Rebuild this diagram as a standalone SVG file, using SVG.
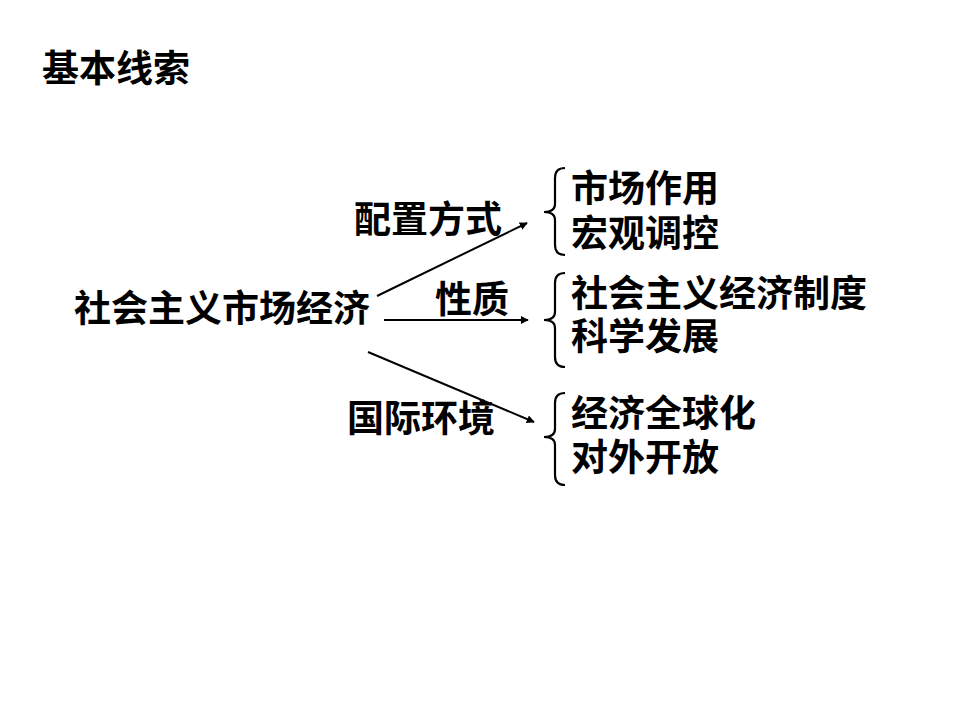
<svg xmlns="http://www.w3.org/2000/svg" width="960" height="720" viewBox="0 0 960 720">
<style>
text{font-family:"Noto Sans CJK SC","Noto Sans CJK JP",sans-serif;font-weight:bold;font-size:37px;fill:#000}
.c{stroke:#000;stroke-width:2;fill:none}
.b{stroke:#000;stroke-width:2.2;fill:none}
</style>
<defs>
<marker id="ah" viewBox="0 0 10 10" refX="9" refY="5" markerWidth="8" markerHeight="8" markerUnits="userSpaceOnUse" orient="auto">
<path d="M0,0 L10,5 L0,10 Z" fill="#000"/>
</marker>
</defs>
<rect width="960" height="720" fill="#fff"/>
<g id="title"><text x="42" y="82">基本线索</text></g>
<g id="root"><text x="74" y="322" font-size="38">社会主义市场经济</text></g>
<g id="connectors">
<line class="c" x1="377" y1="296" x2="527" y2="223" marker-end="url(#ah)"/>
<line class="c" x1="384" y1="320" x2="528" y2="320" marker-end="url(#ah)"/>
<line class="c" x1="368" y1="352" x2="534" y2="422" marker-end="url(#ah)"/>
</g>
<g id="label-peizhi"><text x="354" y="233">配置方式</text></g>
<g id="label-xingzhi"><text x="435" y="313">性质</text></g>
<g id="label-guoji"><text x="347" y="432">国际环境</text></g>
<g id="group1">
<path class="b" d="M565,168 Q555,168 555,178 L555,204 Q555,212 544,212 Q555,212 555,220 L555,245 Q555,255 565,255"/>
<text x="571" y="202">市场作用</text>
<text x="571" y="247">宏观调控</text>
</g>
<g id="group2">
<path class="b" d="M565,273 Q555,273 555,283 L555,312 Q555,320 544,320 Q555,320 555,328 L555,357 Q555,367 565,367"/>
<text x="571" y="307" font-size="38">社会主义经济制度</text>
<text x="571" y="350">科学发展</text>
</g>
<g id="group3">
<path class="b" d="M565,393 Q555,393 555,403 L555,429 Q555,437 544,437 Q555,437 555,445 L555,475 Q555,485 565,485"/>
<text x="571" y="427">经济全球化</text>
<text x="571" y="471">对外开放</text>
</g>
</svg>
